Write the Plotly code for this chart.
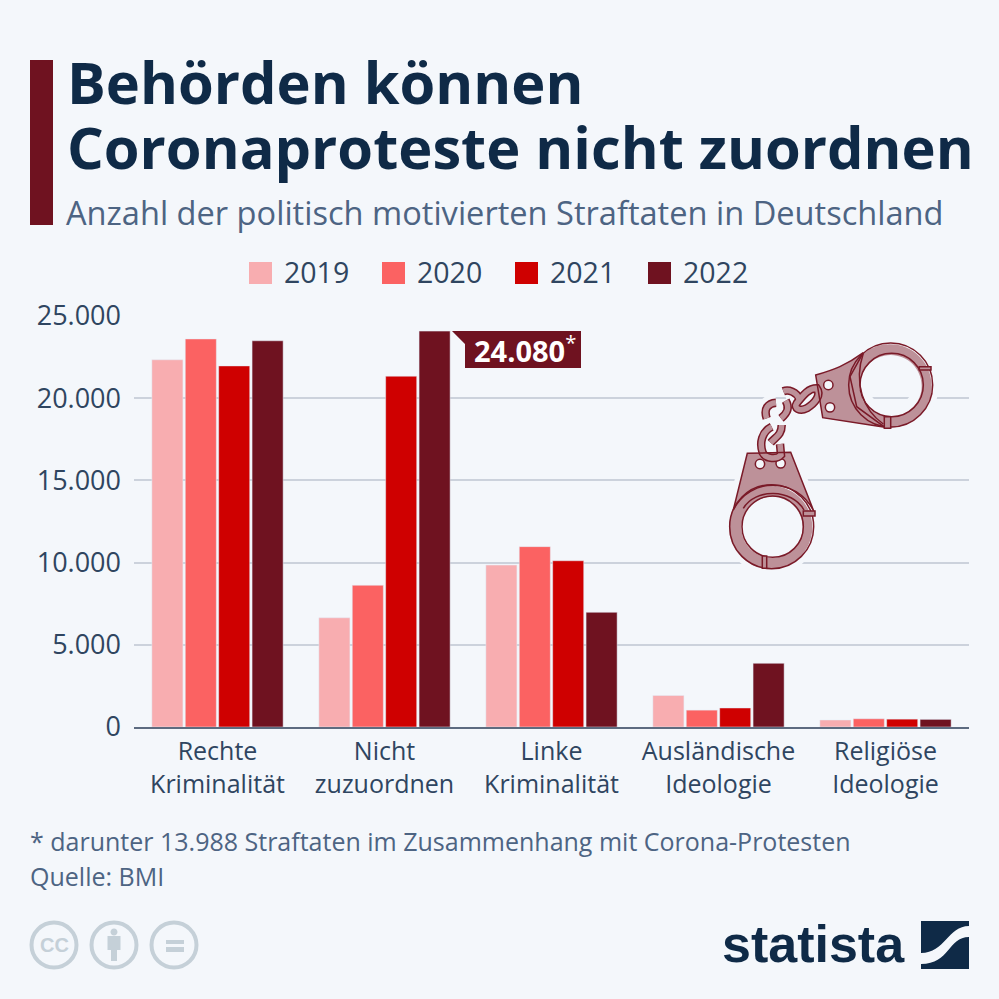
"""
Statista-Grafik: politisch motivierte Straftaten in Deutschland, nachgebaut mit Plotly.
"""

import plotly.graph_objects as go

CATEGORIES = [
    "Rechte<br>Kriminalität",
    "Nicht<br>zuzuordnen",
    "Linke<br>Kriminalität",
    "Ausländische<br>Ideologie",
    "Religiöse<br>Ideologie",
]
YEARS = ["2019", "2020", "2021", "2022"]
VALUES_2019 = [22337, 6643, 9849, 1916, 425]
VALUES_2020 = [23604, 8621, 10971, 1026, 500]
VALUES_2021 = [21964, 21339, 10113, 1157, 478]
VALUES_2022 = [23493, 24080, 6976, 3874, 464]
Y_TICKS = [0, 5000, 10000, 15000, 20000, 25000]
Y_TICK_LABELS = ["0", "5.000", "10.000", "15.000", "20.000", "25.000"]

BG = "#f4f7fb"
NAVY = "#0f2a47"
SLATE = "#4d6483"
TICK = "#2f4560"
DARK = "#6f1220"
CUFF_LINE = "#7a1a28"
CUFF_FILL = "#bd9199"
ICON = "#c5d0d8"
COLORS = ["#f8adb0", "#fb6262", "#cf0000", DARK]
FONT = "Open Sans"

SIZE = 999
shapes = []
annotations = []


def add_shape(**kwargs):
    # alles Dekorative liegt auf der versteckten Pixelachse x2/y2
    shapes.append(dict(xref="x2", yref="y2", layer="above", **kwargs))


def add_path(path, fill=None, color=None, width=0):
    add_shape(
        type="path",
        path=path,
        fillcolor=fill or "rgba(0,0,0,0)",
        line=dict(color=color or "rgba(0,0,0,0)", width=width),
    )


def add_text(text, x, y, size, color, anchor="left", family=FONT):
    annotations.append(
        dict(
            text=text, x=x, y=y, xref="x2", yref="y2", showarrow=False,
            xanchor=anchor, yanchor="middle",
            font=dict(family=family, size=size, color=color),
        )
    )


def circle_path(cx, cy, r):
    k = 0.5523 * r
    return (
        f"M{cx - r},{cy} C{cx - r},{cy - k} {cx - k},{cy - r} {cx},{cy - r} "
        f"C{cx + k},{cy - r} {cx + r},{cy - k} {cx + r},{cy} "
        f"C{cx + r},{cy + k} {cx + k},{cy + r} {cx},{cy + r} "
        f"C{cx - k},{cy + r} {cx - r},{cy + k} {cx - r},{cy} Z"
    )


def zoomed(text):
    out = []
    for token in text.split():
        head = token[0] if token[0].isalpha() else ""
        body = token[len(head):]
        if body:
            x, y = body.split(",")
            body = f"{700 + float(x) / 3:.1f},{320 + float(y) / 3:.1f}"
        out.append(head + body)
    return " ".join(out)


def zcircle(cx, cy, r):
    return circle_path(700 + cx / 3, 320 + cy / 3, r / 3)


UPPER_BODY = "M347,165 C400,150 440,135 490,98 L450,170 L470,260 L555,322 L368,293 Z"
LOWER_BODY = "M142,400 L272,397 L342,575 C290,470 150,470 100,570 Z"
CHAIN = [
    "M350,205 C325,205 310,225 290,250 C280,265 300,275 320,265 C345,250 365,225 350,205 Z",
    "M250,214 C265,208 290,215 298,238",
    "M200,295 C190,265 205,250 228,248",
    "M243,295 C262,280 270,265 257,242",
    "M215,320 C185,335 178,370 188,398 C198,418 232,418 243,405 L240,372",
    "M245,315 C245,345 228,350 212,368",
]

# Freistellung: Hintergrundfarbe unterbricht die Gitterlinien
add_path(zcircle(572, 195, 105), color=BG, width=26)
add_path(zcircle(215, 620, 105), color=BG, width=26)
add_path(zoomed(UPPER_BODY), fill=BG, color=BG, width=12)
add_path(zoomed(LOWER_BODY), fill=BG, color=BG, width=12)
for link in CHAIN:
    add_path(zoomed(link), color=BG, width=18)

# Flaechen, leicht versetzt wie im Original
add_path(zoomed(UPPER_BODY), fill=CUFF_FILL)
add_path(zoomed(LOWER_BODY), fill=CUFF_FILL)
add_path(zcircle(570, 198, 125) + " " + zcircle(572, 198, 93), fill=CUFF_FILL)
add_path(zcircle(212, 622, 125) + " " + zcircle(216, 622, 92), fill=CUFF_FILL)
for cx, cy in [(385, 195), (390, 262), (180, 432), (242, 430)]:
    add_path(zcircle(cx, cy, 14), fill=BG, color=CUFF_LINE, width=1.5)
for link in CHAIN:
    add_path(zoomed(link), color=CUFF_LINE, width=8.5)
for link in CHAIN:
    add_path(zoomed(link), color=CUFF_FILL, width=5.5)

# Konturen
add_path(zoomed(UPPER_BODY), color=CUFF_LINE, width=1.5)
add_path(zoomed(LOWER_BODY), color=CUFF_LINE, width=1.5)
for cx, cy, r in [(572, 195, 126), (575, 195, 95), (215, 620, 126), (218, 620, 92)]:
    add_path(zcircle(cx, cy, r), color=CUFF_LINE, width=1.5)
add_path(zoomed("M130,565 C165,505 275,505 312,570"), color=CUFF_LINE, width=1.5)
add_path(zoomed("M490,100 C460,190 490,270 550,312"), color=CUFF_LINE, width=1.5)
for x0, y0, x1, y1 in [
    (658, 140, 693, 150), (553, 290, 572, 325),
    (310, 573, 345, 588), (187, 708, 200, 745),
]:
    add_path(
        zoomed(f"M{x0},{y0} L{x1},{y0} L{x1},{y1} L{x0},{y1} Z"),
        fill=CUFF_FILL, color=CUFF_LINE, width=1.5,
    )

# Titelblock
add_shape(type="rect", x0=30, x1=53, y0=60, y1=225, fillcolor=DARK, line_width=0)
add_text("<b>Behörden können</b>", 65, 81, 57.8, NAVY)
add_text("<b>Coronaproteste nicht zuordnen</b>", 65, 146, 57.8, NAVY)
add_text("Anzahl der politisch motivierten Straftaten in Deutschland", 64, 212, 32.6, SLATE)

# Legende
for year, color, x in zip(YEARS, COLORS, [249, 382, 515, 648]):
    add_shape(type="rect", x0=x, x1=x + 23, y0=262, y1=284, fillcolor=color, line_width=0)
    add_text(year, x + 33, 272, 28.5, TICK)

# Wertelabel
add_path("M452,331 L581,331 L581,368 L465,368 L465,344 Z", fill=DARK)
add_text("<b>24.080</b><sup>*</sup>", 472, 349, 29, "white")

# Fussnote
add_text("* darunter 13.988 Straftaten im Zusammenhang mit Corona-Protesten", 28, 841, 25, SLATE)
add_text("Quelle: BMI", 28, 876, 25, SLATE)

# CC-Symbole
for cx in [54, 114, 174]:
    add_path(circle_path(cx, 945, 22.5), color=ICON, width=4)
add_text("<b>CC</b>", 54, 945, 20, ICON, anchor="center", family="Liberation Sans")
add_path(circle_path(114, 932, 3.5), fill=ICON)
add_shape(type="rect", x0=107.5, x1=120.5, y0=936, y1=950, fillcolor=ICON, line_width=0)
add_shape(type="rect", x0=111, x1=117, y0=950, y1=961, fillcolor=ICON, line_width=0)
add_shape(type="rect", x0=166, x1=184, y0=940, y1=944, fillcolor=ICON, line_width=0)
add_shape(type="rect", x0=166, x1=184, y0=947, y1=952, fillcolor=ICON, line_width=0)

# Statista-Logo
add_text("<b>statista</b>", 907, 944, 52, NAVY, anchor="right", family="Liberation Sans")
add_path("M921,921 L969,921 L969,926 C948,926 945,953 921,953 Z", fill=NAVY)
add_path("M969,937 L969,969 L921,969 L921,964 C950,964 948,937 969,937 Z", fill=NAVY)

fig = go.Figure()
for year, values, color in zip(
    YEARS, [VALUES_2019, VALUES_2020, VALUES_2021, VALUES_2022], COLORS
):
    fig.add_trace(go.Bar(name=year, x=CATEGORIES, y=values, marker_color=color))

fig.update_layout(
    width=SIZE,
    height=SIZE,
    margin=dict(l=0, r=0, t=0, b=0, autoexpand=False),
    paper_bgcolor=BG,
    plot_bgcolor="rgba(0,0,0,0)",
    showlegend=False,
    barmode="group",
    bargap=0.2,
    bargroupgap=0.07,
    font=dict(family=FONT, color=TICK),
    shapes=shapes,
    annotations=annotations,
    xaxis=dict(
        domain=[134 / SIZE, 969 / SIZE],
        automargin=False,
        showgrid=False,
        showline=True,
        linecolor="#5d6b80",
        linewidth=2,
        ticks="",
        tickfont=dict(size=25),
        ticklabelstandoff=1,
    ),
    yaxis=dict(
        domain=[(SIZE - 727) / SIZE, (SIZE - 316) / SIZE],
        automargin=False,
        range=[0, 25000],
        tickvals=Y_TICKS,
        ticktext=Y_TICK_LABELS,
        tickfont=dict(size=27),
        gridcolor="#ccd2dc",
        gridwidth=1.5,
        zeroline=False,
        ticklabelstandoff=12,
    ),
    # versteckte Pixelachsen fuer Logo, Titel und Illustration
    xaxis2=dict(domain=[0, 1], range=[0, SIZE], visible=False, anchor="y2", fixedrange=True, automargin=False),
    yaxis2=dict(domain=[0, 1], range=[SIZE, 0], visible=False, anchor="x2", fixedrange=True, automargin=False),
)

fig.write_html(
    "out.html",
    config=dict(displayModeBar=False),
    post_script="document.body.style.margin = '0';",
)
